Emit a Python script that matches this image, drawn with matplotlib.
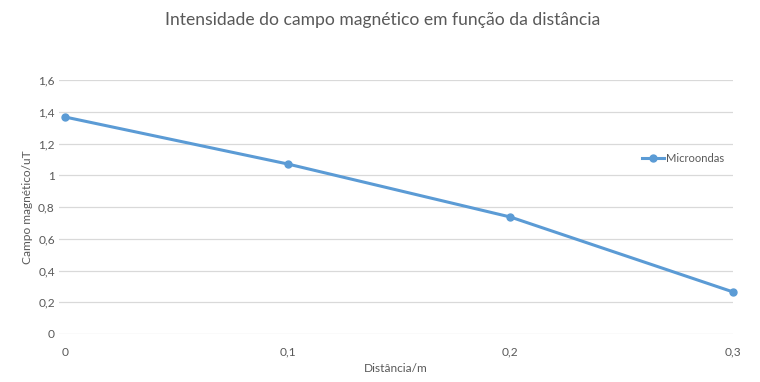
import matplotlib
matplotlib.use("Agg")
import matplotlib.pyplot as plt
from matplotlib.ticker import FixedLocator

distancia = [0, 0.1, 0.2, 0.3]
campo = [1.367, 1.071, 0.737, 0.265]
serie = "Microondas"
y_ticks = [0, 0.2, 0.4, 0.6, 0.8, 1.0, 1.2, 1.4, 1.6]
y_labels = ["0", "0,2", "0,4", "0,6", "0,8", "1", "1,2", "1,4", "1,6"]
x_ticks = [0, 0.1, 0.2, 0.3]
x_labels = ["0", "0,1", "0,2", "0,3"]

plt.rcParams['font.family'] = ['Lato', 'DejaVu Sans']
txt = '#595959'

fig = plt.figure(figsize=(7.6, 3.82), dpi=100)
ax = fig.add_axes([59/760, 48/382, 674/760, 254/382])

ax.plot(distancia, campo, color='#5B9BD5', lw=2.2, marker='o', ms=5, label=serie, clip_on=False, zorder=3)

ax.set_xlim(-0.0027, 0.3)
ax.set_ylim(0, 1.6)
ax.yaxis.set_major_locator(FixedLocator(y_ticks))
ax.set_yticklabels(y_labels)
ax.xaxis.set_major_locator(FixedLocator(x_ticks))
ax.set_xticklabels(x_labels)
ax.grid(axis='y', color='#d9d9d9', lw=0.9)
ax.set_axisbelow(True)
for s in ax.spines.values():
    s.set_visible(False)
ax.tick_params(length=0, colors=txt, labelsize=8.6)
ax.tick_params(axis='y', pad=3)
ax.tick_params(axis='x', pad=9)

ax.set_xlabel("Distância/m", color=txt, fontsize=8.6, labelpad=4)
ax.set_ylabel("Campo magnético/uT", color=txt, fontsize=8.6, labelpad=4)
fig.text(383/760, 1 - 20/382, "Intensidade do campo magnético em função da distância",
         ha='center', va='center', color=txt, fontsize=12.6)

leg = ax.legend(loc='center left', bbox_to_anchor=(642/760, 1 - 158/382), bbox_transform=fig.transFigure,
                frameon=False, fontsize=8, handlelength=2.0, handletextpad=0.15, borderpad=0, borderaxespad=0)
for t in leg.get_texts():
    t.set_color(txt)

fig.savefig("out.png", dpi=100)
